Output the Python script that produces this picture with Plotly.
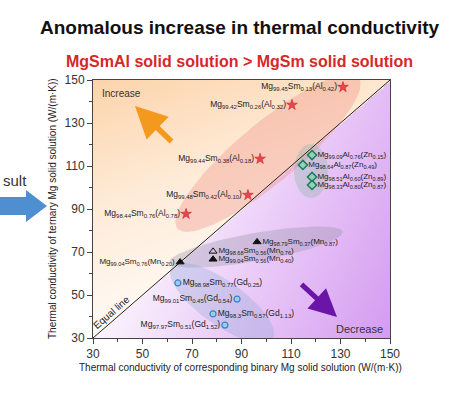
import numpy as np
import plotly.graph_objects as go

# ---------------- data ----------------
al_labels = ["Mg<sub>99.45</sub>Sm<sub>0.13</sub>(Al<sub>0.42</sub>)",
             "Mg<sub>99.42</sub>Sm<sub>0.26</sub>(Al<sub>0.32</sub>)",
             "Mg<sub>99.44</sub>Sm<sub>0.38</sub>(Al<sub>0.18</sub>)",
             "Mg<sub>99.48</sub>Sm<sub>0.42</sub>(Al<sub>0.10</sub>)",
             "Mg<sub>98.44</sub>Sm<sub>0.76</sub>(Al<sub>0.78</sub>)"]
al_binary = [131, 110.4, 97.5, 92.6, 67.6]
al_ternary = [146.7, 138.4, 113.3, 96.5, 87.7]

mn_labels = ["Mg<sub>98.79</sub>Sm<sub>0.37</sub>(Mn<sub>0.87</sub>)",
             "Mg<sub>98.68</sub>Sm<sub>0.56</sub>(Mn<sub>0.76</sub>)",
             "Mg<sub>99.04</sub>Sm<sub>0.56</sub>(Mn<sub>0.40</sub>)",
             "Mg<sub>99.04</sub>Sm<sub>0.76</sub>(Mn<sub>0.20</sub>)"]
mn_binary = [96.3, 78.5, 78.5, 65.2]
mn_ternary = [74.7, 70.3, 66.6, 65.3]

gd_labels = ["Mg<sub>98.98</sub>Sm<sub>0.77</sub>(Gd<sub>0.25</sub>)",
             "Mg<sub>99.01</sub>Sm<sub>0.45</sub>(Gd<sub>0.54</sub>)",
             "Mg<sub>98.3</sub>Sm<sub>0.57</sub>(Gd<sub>1.13</sub>)",
             "Mg<sub>97.97</sub>Sm<sub>0.51</sub>(Gd<sub>1.52</sub>)"]
gd_binary = [64.3, 88.2, 78.5, 83.3]
gd_ternary = [55.6, 48.1, 41.2, 36.0]

zn_labels = ["Mg<sub>99.09</sub>Al<sub>0.76</sub>(Zn<sub>0.15</sub>)",
             "Mg<sub>98.64</sub>Al<sub>0.87</sub>(Zn<sub>0.49</sub>)",
             "Mg<sub>98.51</sub>Al<sub>0.60</sub>(Zn<sub>0.89</sub>)",
             "Mg<sub>98.33</sub>Al<sub>0.80</sub>(Zn<sub>0.87</sub>)"]
zn_binary = [118.5, 114.8, 118.5, 118.5]
zn_ternary = [115.1, 110.5, 104.9, 101.2]

tick_vals = [30, 50, 70, 90, 110, 130, 150]

FONT = "Liberation Sans, Arial, sans-serif"
W, H = 459, 393
L, R, T, B = 93, 69, 80, 55
PX = (W - L - R) / 120.0
PY = (H - T - B) / 120.0


def px2data(px, py):
    return 30 + (px - L) / PX, 30 + (H - B - py) / PY


def pxp(px, py):
    return (px - L) / (W - L - R), (H - B - py) / (H - T - B)


def ellipse(cx, cy, a, b, ang_deg, n=80):
    t = np.linspace(0, 2 * np.pi, n)
    ang = np.radians(ang_deg)
    ex = a * np.cos(t)
    ey = b * np.sin(t)
    px = cx + ex * np.cos(ang) - ey * np.sin(ang)
    py = cy - (ex * np.sin(ang) + ey * np.cos(ang))
    xs, ys = px2data(px, py)
    return list(xs), list(ys)


fig = go.Figure()

# background gradient (decorative): peach above the equal line, violet below
gx = np.linspace(30, 150, 241)
gy = np.linspace(30, 150, 241)
GX, GY = np.meshgrid(gx, gy)
upper = 0.6 * (GY - 30) / 120 + 0.4 * (GY - GX) / 120
lower = 0.6 * (GX - 30) / 120 + 0.4 * (GX - GY) / 120
Z = np.where(GY >= GX, 0.5 + 0.5 * upper, 0.5 - 0.5 * lower)
fig.add_trace(go.Heatmap(
    x=gx, y=gy, z=Z, zmin=0, zmax=1, zsmooth="best", showscale=False,
    hoverinfo="skip",
    colorscale=[[0, "#d49bf0"], [0.25, "#e8c6f7"], [0.5, "#fbf4fd"],
                [0.5, "#fffaf5"], [0.75, "#feebd8"], [1, "#fcd4ab"]]))

# group ellipses
for (cx, cy, a, b, ang, col) in [
        (268, 153, 118, 30, 39.8, "rgba(240,125,115,0.30)"),
        (256, 247, 88, 14, 10, "rgba(150,145,165,0.35)"),
        (222, 303, 62, 22, -35.5, "rgba(150,170,215,0.35)"),
        (311, 171, 17, 27, 0, "rgba(140,180,165,0.35)")]:
    ex, ey = ellipse(cx, cy, a, b, ang)
    fig.add_trace(go.Scatter(x=ex, y=ey, mode="lines", fill="toself",
                             fillcolor=col, line=dict(width=0),
                             hoverinfo="skip", showlegend=False))

# equal line
fig.add_trace(go.Scatter(x=[30, 150], y=[30, 150], mode="lines",
                         line=dict(color="#222", width=1),
                         hoverinfo="skip", showlegend=False))

lab_font = dict(family=FONT, size=8.5, color="#222")

fig.add_trace(go.Scatter(
    x=al_binary, y=al_ternary, mode="markers+text", text=al_labels,
    textposition="middle left", textfont=lab_font,
    marker=dict(symbol="star", size=8, color="#e5484d",
                line=dict(color="#c8202a", width=0.6)), showlegend=False))

fig.add_trace(go.Scatter(
    x=mn_binary, y=mn_ternary, mode="markers+text", text=mn_labels,
    textposition=["middle right", "middle right", "middle right", "middle left"],
    textfont=dict(family=FONT, size=8, color="#222"),
    marker=dict(symbol=["triangle-up", "triangle-up-open", "triangle-up", "triangle-up"],
                size=7, color="#111", line=dict(color="#111", width=1)),
    showlegend=False))

fig.add_trace(go.Scatter(
    x=gd_binary, y=gd_ternary, mode="markers+text", text=gd_labels,
    textposition=["middle right", "middle left", "middle right", "middle left"],
    textfont=lab_font,
    marker=dict(symbol="circle", size=6, color="#9ecbf0",
                line=dict(color="#3b7fc4", width=1.2)), showlegend=False))

fig.add_trace(go.Scatter(
    x=zn_binary, y=zn_ternary, mode="markers+text", text=zn_labels,
    textposition="middle right", textfont=dict(family=FONT, size=8, color="#222"),
    marker=dict(symbol="diamond", size=7, color="#8fd3b8",
                line=dict(color="#1f7a5c", width=1.5)), showlegend=False))

axis_common = dict(range=[30, 150], tickvals=tick_vals, ticks="outside", ticklen=5,
                   tickwidth=1, tickcolor="#444", showline=True, linecolor="#444",
                   linewidth=1, mirror=True, showgrid=False, zeroline=False,
                   tickfont=dict(family=FONT, size=12, color="#333"),
                   minor=dict(ticks="outside", ticklen=3, tickcolor="#444", dtick=10,
                              tick0=30, showgrid=False))

fig.update_layout(
    width=W, height=H,
    margin=dict(l=L, r=R, t=T, b=B),
    paper_bgcolor="white", plot_bgcolor="white",
    xaxis=dict(**axis_common), yaxis=dict(**axis_common),
    font=dict(family=FONT),
)

ann = []


def add_text(text, px, py, size, color="#222", xanchor="center", angle=0):
    x, y = pxp(px, py)
    ann.append(dict(text=text, xref="paper", yref="paper", x=x, y=y,
                    showarrow=False, xanchor=xanchor, yanchor="middle",
                    textangle=angle, font=dict(family=FONT, size=size, color=color)))


add_text("<b>Anomalous increase in thermal conductivity</b>", 240, 27, 19, "#111")
add_text("<b>MgSmAl solid solution &gt; MgSm solid solution</b>", 239, 61, 16, "#d62828")
add_text("Thermal conductivity of corresponding binary Mg solid solution (W/(m·K))",
         240, 367, 10, "#222")
add_text("Thermal conductivity of ternary Mg solid solution (W/(m·K))",
         52, 209, 10, "#222", angle=-90)
add_text("Increase", 100, 93, 10, "#333", xanchor="left")
add_text("Decrease", 385, 329, 11, "#333", xanchor="right")
add_text("Equal line", 111, 312, 10, "#222", angle=-41)
add_text("sult", 1, 180, 15, "#333", xanchor="left")

# arrows
tx, ty = px2data(135, 106)
ann.append(dict(x=tx, y=ty, xref="x", yref="y", ax=38, ay=37, text="",
                showarrow=True, arrowhead=2, arrowsize=1.15, arrowwidth=5.5,
                arrowcolor="#f39a1e"))
tx, ty = px2data(337, 317)
ann.append(dict(x=tx, y=ty, xref="x", yref="y", ax=-37, ay=-34, text="",
                showarrow=True, arrowhead=2, arrowsize=1.1, arrowwidth=5,
                arrowcolor="#6a14a8"))
fig.update_layout(annotations=ann)

# left blue block arrow (slide fragment)
pts = [(0, 197), (26, 197), (26, 190), (47, 206), (26, 222), (26, 215), (0, 215)]
path = "M " + " L ".join("%.4f,%.4f" % pxp(a, b) for a, b in pts) + " Z"
fig.add_shape(type="path", path=path, xref="paper", yref="paper",
              fillcolor="#4d8fd1", line=dict(width=0), layer="above")

fig.write_html("out.html", config={"displayModeBar": False},
               post_script="document.body.style.margin='0px';")
